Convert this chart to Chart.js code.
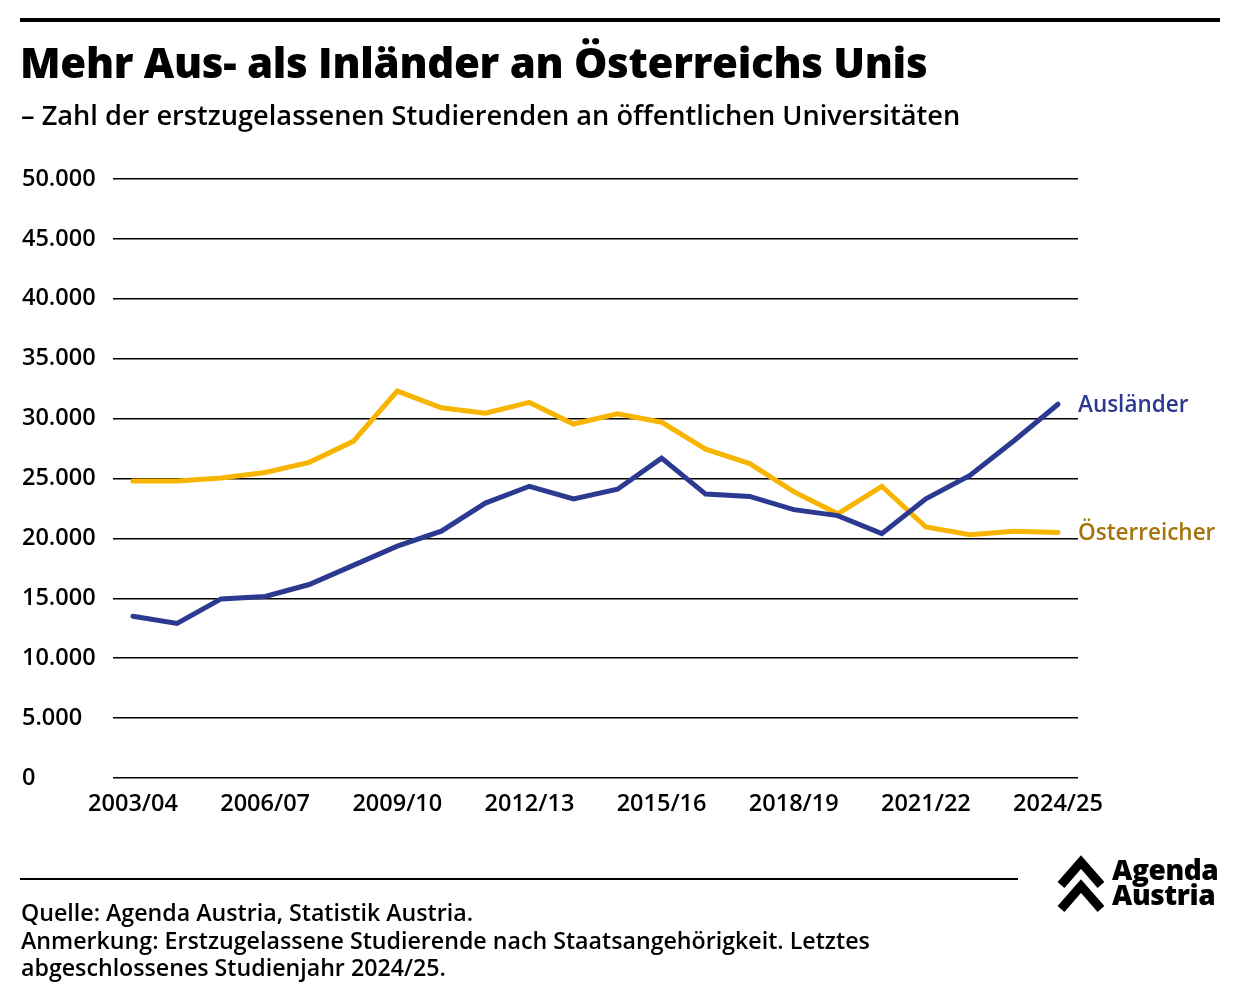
<!DOCTYPE html>
<html><head><meta charset="utf-8">
<script src="https://cdn.jsdelivr.net/npm/chart.js@4.4.1/dist/chart.umd.min.js"></script>
<style>
html,body{margin:0;padding:0;background:#fff;}
body{width:1240px;height:1004px;position:relative;overflow:hidden;font-family:"Open Sans",sans-serif;color:#000;}
#c{position:absolute;left:0;top:0;}
.abs{position:absolute;white-space:nowrap;}
</style></head><body>
<canvas id="c" width="1240" height="1004"></canvas>
<div class="abs" style="left:20px;top:18px;width:1200px;height:4px;background:#000"></div>
<div class="abs" style="left:20px;top:32px;font-size:42px;font-weight:800;line-height:60px;letter-spacing:-0.3px;">Mehr Aus- als Inländer an Österreichs Unis</div>
<div class="abs" style="left:21px;top:98px;font-size:27.2px;font-weight:600;line-height:34px;">– Zahl der erstzugelassenen Studierenden an öffentlichen Universitäten</div>
<div class="abs" style="left:20px;top:878px;width:998px;height:2px;background:#000"></div>
<div class="abs" style="left:21px;top:899px;font-size:23.2px;font-weight:600;line-height:27.5px;">Quelle: Agenda Austria, Statistik Austria.<br>Anmerkung: Erstzugelassene Studierende nach Staatsangehörigkeit. Letztes<br>abgeschlossenes Studienjahr 2024/25.</div>
<svg class="abs" style="left:1055px;top:852px" width="55" height="62">
<polyline points="6,33 26,10 46,33" fill="none" stroke="#000" stroke-width="9"/>
<polyline points="6,57 26,34 46,57" fill="none" stroke="#000" stroke-width="9"/>
</svg>
<div class="abs" style="left:1112px;top:857px;font-size:28px;font-weight:800;line-height:25px;letter-spacing:-0.4px;">Agenda<br>Austria</div>
<script>
const categories = ["2003/04","2004/05","2005/06","2006/07","2007/08","2008/09","2009/10","2010/11","2011/12","2012/13","2013/14","2014/15","2015/16","2016/17","2017/18","2018/19","2019/20","2020/21","2021/22","2022/23","2023/24","2024/25"];
const auslaender = [13500,12900,14950,15150,16150,17750,19350,20600,22950,24350,23300,24100,26700,23700,23500,22400,21900,20400,23300,25250,28150,31200];
const oesterreicher = [24800,24800,25050,25500,26350,28100,32300,30900,30450,31350,29550,30400,29700,27450,26250,23900,22050,24350,20950,20300,20600,20500];
const yTicks = [0,5000,10000,15000,20000,25000,30000,35000,40000,45000,50000];
const xTickIdx = [0,3,6,9,12,15,18,21];
const seriesNames = ["Ausländer","Österreicher"];
const lineColors = ["#2b3990","#f7b500"];
const labelColors = ["#2b3990","#a8740a"];

const fmt = v => v.toLocaleString('de-DE');
const toPts = arr => arr.map((v,i)=>({x:i,y:v}));

const endLabels = {
  id:'endLabels',
  afterDatasetsDraw(chart){
    const {ctx, chartArea, scales} = chart;
    ctx.save();
    ctx.font = '600 22.5px "Open Sans"';
    ctx.textBaseline = 'middle';
    ctx.textAlign = 'left';
    chart.data.datasets.forEach((ds,i)=>{
      const last = ds.data[ds.data.length-1].y;
      ctx.fillStyle = labelColors[i];
      ctx.fillText(seriesNames[i], chartArea.right, scales.y.getPixelForValue(last) + 1);
    });
    ctx.restore();
  }
};

new Chart(document.getElementById('c'), {
  type:'line',
  data:{datasets:[
    {label:seriesNames[0], data:toPts(auslaender), borderColor:lineColors[0], borderWidth:5, pointRadius:0, tension:0, borderCapStyle:'round', borderJoinStyle:'miter'},
    {label:seriesNames[1], data:toPts(oesterreicher), borderColor:lineColors[1], borderWidth:5, pointRadius:0, tension:0, borderCapStyle:'round', borderJoinStyle:'miter'}
  ]},
  options:{
    responsive:false, animation:false,
    layout:{padding:{left:22, right:162, top:179, bottom:186}},
    plugins:{legend:{display:false}, tooltip:{enabled:false}},
    scales:{
      x:{type:'linear', min:-0.454, max:21.454,
        grid:{display:false}, border:{display:false},
        afterBuildTicks(s){ s.ticks = xTickIdx.map(v=>({value:v})); },
        afterFit(s){ s.height = 40; },
        ticks:{autoSkip:false, maxRotation:0, padding:4, color:'#000', font:{family:'Open Sans', size:23.5, weight:'600'},
          callback:(v)=>categories[v]}
      },
      y:{min:0, max:50000,
        afterBuildTicks(s){ s.ticks = yTicks.map(v=>({value:v})); },
        afterFit(s){ s.width = 91; },
        grid:{color:'#000', lineWidth:1.5, drawTicks:false}, border:{display:false},
        ticks:{crossAlign:'far', padding:0, color:'#000', font:{family:'Open Sans', size:23.5, weight:'600'}, callback:v=>fmt(v)}
      }
    }
  },
  plugins:[endLabels]
});
</script>
</body></html>
